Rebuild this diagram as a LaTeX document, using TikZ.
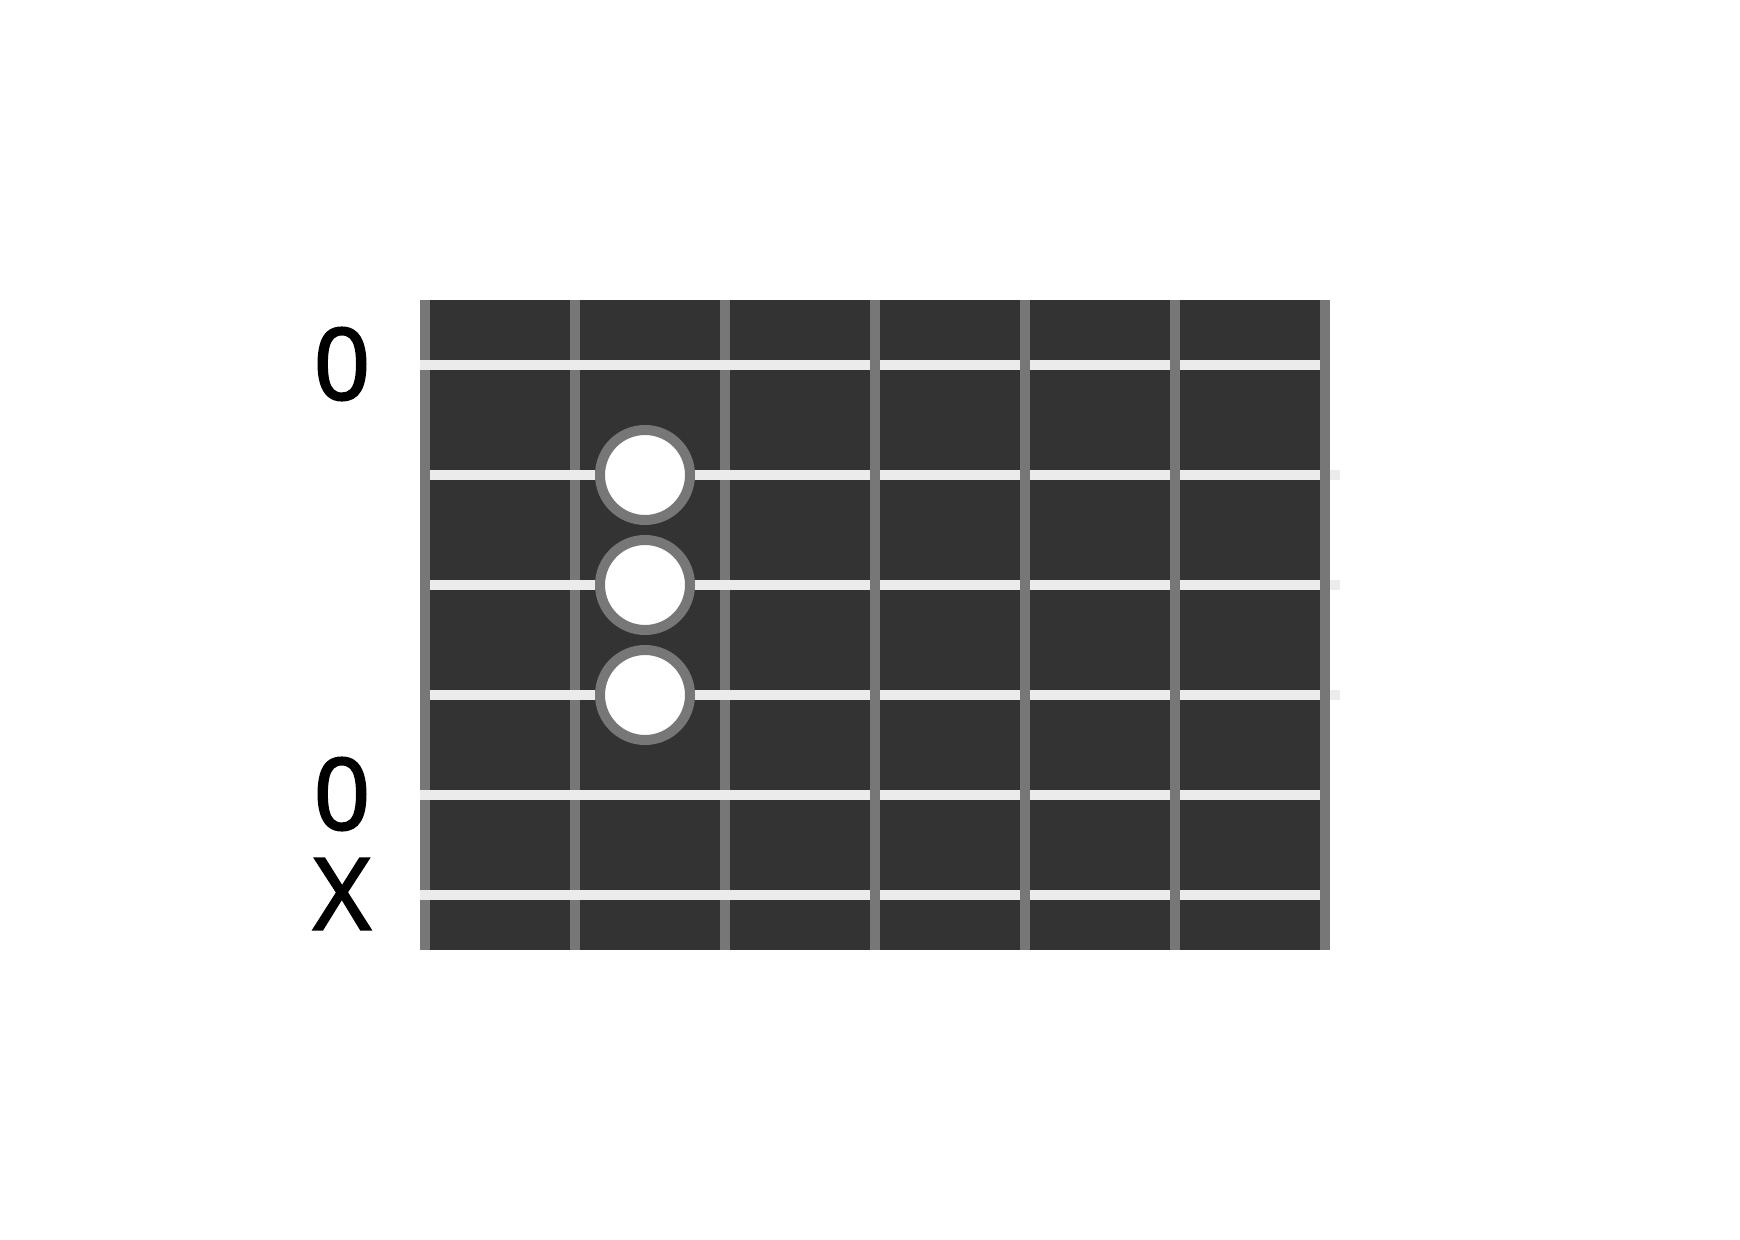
\documentclass[tikz,border=0pt]{standalone}
\usepackage{fontspec}
\setmainfont{Noto Sans}
\newfontfamily\markfont{Noto Sans}[FakeBold=1.6]
\definecolor{boardc}{HTML}{333333}
\definecolor{fretc}{HTML}{777777}
\definecolor{strc}{HTML}{EBEBEB}
\begin{document}
\begin{tikzpicture}[x=0.5pt,y=-0.5pt,
  fretline/.style={draw=fretc,line width=5pt},
  stringline/.style={draw=strc,line width=5pt},
  fingerdot/.style={circle,draw=fretc,fill=white,line width=5pt,minimum size=45pt,inner sep=0pt},
  marker/.style={font=\markfont\fontsize{50}{60}\selectfont,inner sep=0pt,text=black}]
\useasboundingbox (0,0) rectangle (1740,1240);
\fill[white] (0,0) rectangle (1740,1240);
\fill[boardc] (420,300) rectangle (1330,950);
% frets drawn beneath the strings
\foreach \x in {425,575,725} \draw[fretline] (\x,300) -- (\x,950);
% strings
\foreach \y in {365,795,895} \draw[stringline] (420,\y) -- (1320,\y);
\foreach \y in {475,585,695} \draw[stringline] (430,\y) -- (1340,\y);
% frets drawn above the strings
\foreach \x in {875,1025,1175,1325} \draw[fretline] (\x,300) -- (\x,950);
% finger dots
\node[fingerdot] (f2) at (645,475) {};
\node[fingerdot] (f3) at (645,585) {};
\node[fingerdot] (f4) at (645,695) {};
% open / muted markers
\node[marker] (m1) at (342,364) {0};
\node[marker] (m5) at (342,794) {0};
\node[marker] (m6) at (342,894) {X};
\end{tikzpicture}
\end{document}
